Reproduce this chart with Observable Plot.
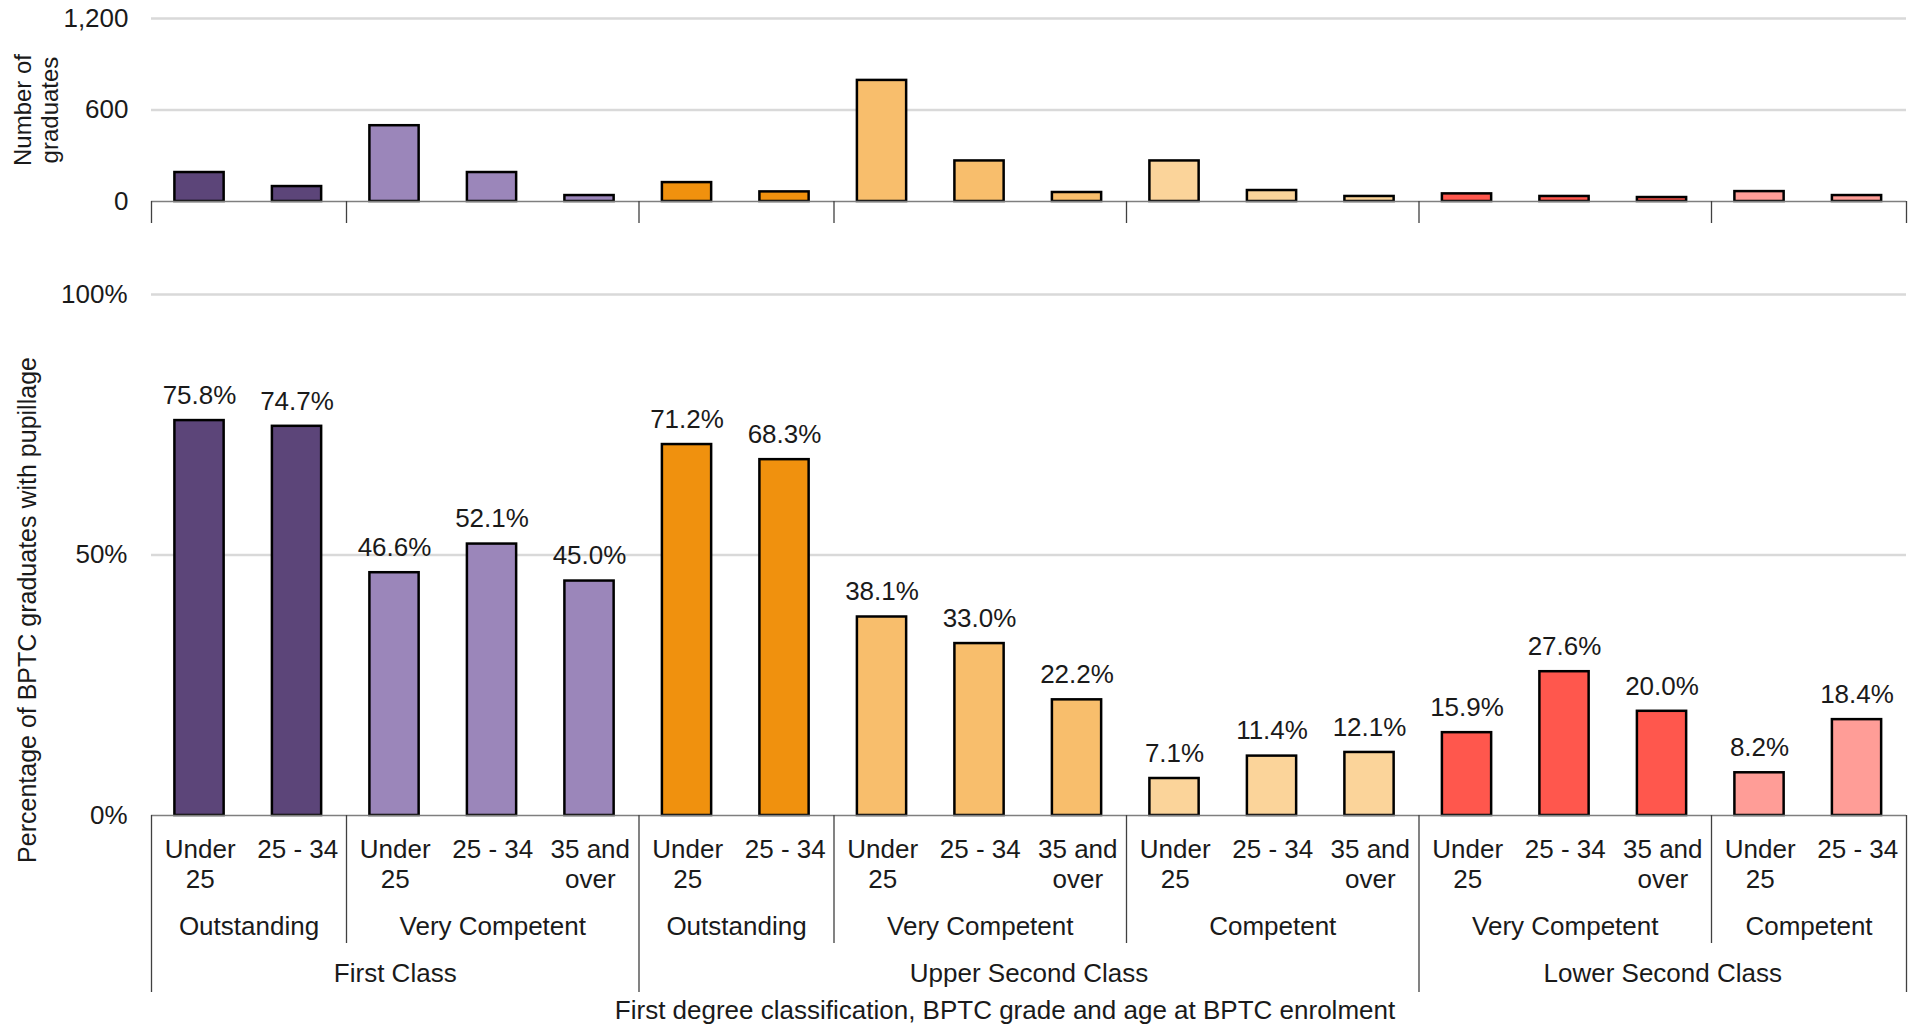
<!DOCTYPE html>
<html>
<head>
<meta charset="utf-8">
<script src="https://cdn.jsdelivr.net/npm/d3@7"></script>
<script src="https://cdn.jsdelivr.net/npm/@observablehq/plot@0.6"></script>
<style>
  html, body { margin: 0; padding: 0; background: #fff; }
  #wrap { position: relative; width: 1908px; height: 1026px; overflow: hidden; font-family: "Liberation Sans", Arial, sans-serif; }
  #top, #bottom { position: absolute; left: 0; }
  #top { top: 0; }
  #bottom { top: 230px; }
</style>
</head>
<body>
<div id="wrap"><div id="top"></div><div id="bottom"></div></div>
<script>
// ---- Data ----
const ageLabels = [
  "Under\n25", "25 - 34",
  "Under\n25", "25 - 34", "35 and\nover",
  "Under\n25", "25 - 34",
  "Under\n25", "25 - 34", "35 and\nover",
  "Under\n25", "25 - 34", "35 and\nover",
  "Under\n25", "25 - 34", "35 and\nover",
  "Under\n25", "25 - 34"
];
const gradeLabels = [
  "Outstanding", "Outstanding",
  "Very Competent", "Very Competent", "Very Competent",
  "Outstanding", "Outstanding",
  "Very Competent", "Very Competent", "Very Competent",
  "Competent", "Competent", "Competent",
  "Very Competent", "Very Competent", "Very Competent",
  "Competent", "Competent"
];
const classLabels = [
  "First Class", "First Class", "First Class", "First Class", "First Class",
  "Upper Second Class", "Upper Second Class", "Upper Second Class", "Upper Second Class",
  "Upper Second Class", "Upper Second Class", "Upper Second Class", "Upper Second Class",
  "Lower Second Class", "Lower Second Class", "Lower Second Class", "Lower Second Class", "Lower Second Class"
];
const pctValues = [75.8, 74.7, 46.6, 52.1, 45.0, 71.2, 68.3, 38.1, 33.0, 22.2, 7.1, 11.4, 12.1, 15.9, 27.6, 20.0, 8.2, 18.4];
const countValues = [190, 98, 497, 190, 39, 124, 63, 794, 266, 59, 266, 72, 33, 50, 33, 26, 65, 39];
const groupColors = {
  "First Class|Outstanding": "#5C4579",
  "First Class|Very Competent": "#9B86BA",
  "Upper Second Class|Outstanding": "#F0910E",
  "Upper Second Class|Very Competent": "#F8BE6C",
  "Upper Second Class|Competent": "#FBD49A",
  "Lower Second Class|Very Competent": "#FF574D",
  "Lower Second Class|Competent": "#FF9D97"
};
const pctTicks = [0, 50, 100];
const countTicks = [0, 600, 1200];
const xTitle = "First degree classification, BPTC grade and age at BPTC enrolment";
const yTitleBottom = "Percentage of BPTC graduates with pupillage";
const yTitleTop = "Number of\ngraduates";

// ---- Derived table ----
const rows = ageLabels.map((age, i) => ({
  i, age, grade: gradeLabels[i], cls: classLabels[i],
  pct: pctValues[i], count: countValues[i],
  color: groupColors[classLabels[i] + "|" + gradeLabels[i]]
}));
function runs(keyFn, labelFn) {
  const out = [];
  rows.forEach((r, i) => {
    const k = keyFn(r);
    if (!out.length || out[out.length - 1].key !== k) out.push({key: k, label: labelFn(r), start: i, end: i + 1});
    else out[out.length - 1].end = i + 1;
  });
  return out;
}
const gradeGroups = runs(r => r.cls + "|" + r.grade, r => r.grade);
const classGroups = runs(r => r.cls, r => r.cls);
const classBounds = [0, ...classGroups.map(g => g.end)];
const gradeBounds = [0, ...gradeGroups.map(g => g.end)];
const innerBounds = gradeBounds.filter(b => !classBounds.includes(b));

const N = rows.length;
const W = 1908;
const ML = 151, MR = 2;
const font = "'Liberation Sans', Arial, sans-serif";
const barX1 = d => d.i + 0.24;
const barX2 = d => d.i + 0.745;

// ---- Top panel ----
const topH = 230, topMT = 18, topMB = 29;
const topUnitsPerPx = 1200 / (topH - topMT - topMB);
const topPlot = Plot.plot({
  width: W, height: topH,
  marginTop: topMT, marginBottom: topMB, marginLeft: ML, marginRight: MR,
  style: {fontFamily: font, fontSize: "26px", color: "#1a1a1a", background: "transparent", overflow: "visible"},
  x: {domain: [0, N], axis: null},
  y: {domain: [0, 1200], axis: null},
  color: {type: "identity"},
  marks: [
    Plot.ruleY(countTicks.filter(t => t > 0), {stroke: "#d9d9d9", strokeWidth: 2.5}),
    Plot.rect(rows, {x1: barX1, x2: barX2, y1: 0, y2: "count", fill: "color", stroke: "#000", strokeWidth: 2.5}),
    Plot.ruleY([0], {stroke: "#7f7f7f", strokeWidth: 1.5}),
    Plot.ruleX(gradeBounds, {x: d => d, y1: 0, y2: -22 * topUnitsPerPx, stroke: "#404040", strokeWidth: 1.3}),
    Plot.axisY({ticks: countTicks, tickFormat: d3.format(","), tickSize: 0, tickPadding: 23, fontSize: 26, label: null}),
    Plot.text([yTitleTop], {frameAnchor: "left", textAnchor: "middle", lineAnchor: "middle", rotate: -90, dx: -116, lineHeight: 1.15, fontSize: 24, fill: "#1a1a1a"})
  ]
});
document.getElementById("top").appendChild(topPlot);

// ---- Bottom panel ----
const botH = 796, botMT = 64, botMB = 211;
const botUnitsPerPx = 100 / (botH - botMT - botMB);
const bottomPlot = Plot.plot({
  width: W, height: botH,
  marginTop: botMT, marginBottom: botMB, marginLeft: ML, marginRight: MR,
  style: {fontFamily: font, fontSize: "26px", color: "#1a1a1a", background: "transparent", overflow: "visible"},
  x: {domain: [0, N], axis: null},
  y: {domain: [0, 100], axis: null},
  color: {type: "identity"},
  marks: [
    Plot.ruleY(pctTicks.filter(t => t > 0), {stroke: "#d9d9d9", strokeWidth: 2.5}),
    Plot.rect(rows, {x1: barX1, x2: barX2, y1: 0, y2: "pct", fill: "color", stroke: "#000", strokeWidth: 2.5}),
    Plot.text(rows, {x: d => d.i + 0.4925, y: "pct", text: d => d.pct.toFixed(1) + "%", dy: -25, lineAnchor: "middle", fontSize: 26, fill: "#1a1a1a"}),
    Plot.ruleY([0], {stroke: "#7f7f7f", strokeWidth: 1.5}),
    Plot.ruleX(innerBounds, {x: d => d, y1: 0, y2: -128 * botUnitsPerPx, stroke: "#404040", strokeWidth: 1.3}),
    Plot.ruleX(classBounds, {x: d => d, y1: 0, y2: -177 * botUnitsPerPx, stroke: "#404040", strokeWidth: 1.3}),
    Plot.text(rows, {x: d => d.i + 0.5, y: 0, text: "age", dy: 21, lineAnchor: "top", lineHeight: 1.154, fontSize: 26, fill: "#1a1a1a"}),
    Plot.text(gradeGroups, {x: d => (d.start + d.end) / 2, y: 0, text: "label", dy: 111, lineAnchor: "middle", fontSize: 26, fill: "#1a1a1a"}),
    Plot.text(classGroups, {x: d => (d.start + d.end) / 2, y: 0, text: "label", dy: 158, lineAnchor: "middle", fontSize: 26, fill: "#1a1a1a"}),
    Plot.text([xTitle], {frameAnchor: "bottom", dx: -24, dy: 195, lineAnchor: "middle", fontSize: 26, fill: "#1a1a1a"}),
    Plot.axisY({ticks: pctTicks, tickFormat: d => d + "%", tickSize: 0, tickPadding: 24, fontSize: 26, label: null}),
    Plot.text([yTitleBottom], {frameAnchor: "left", textAnchor: "middle", lineAnchor: "middle", rotate: -90, dx: -124, dy: 55, fontSize: 25, fill: "#1a1a1a"})
  ]
});
document.getElementById("bottom").appendChild(bottomPlot);
</script>
</body>
</html>
